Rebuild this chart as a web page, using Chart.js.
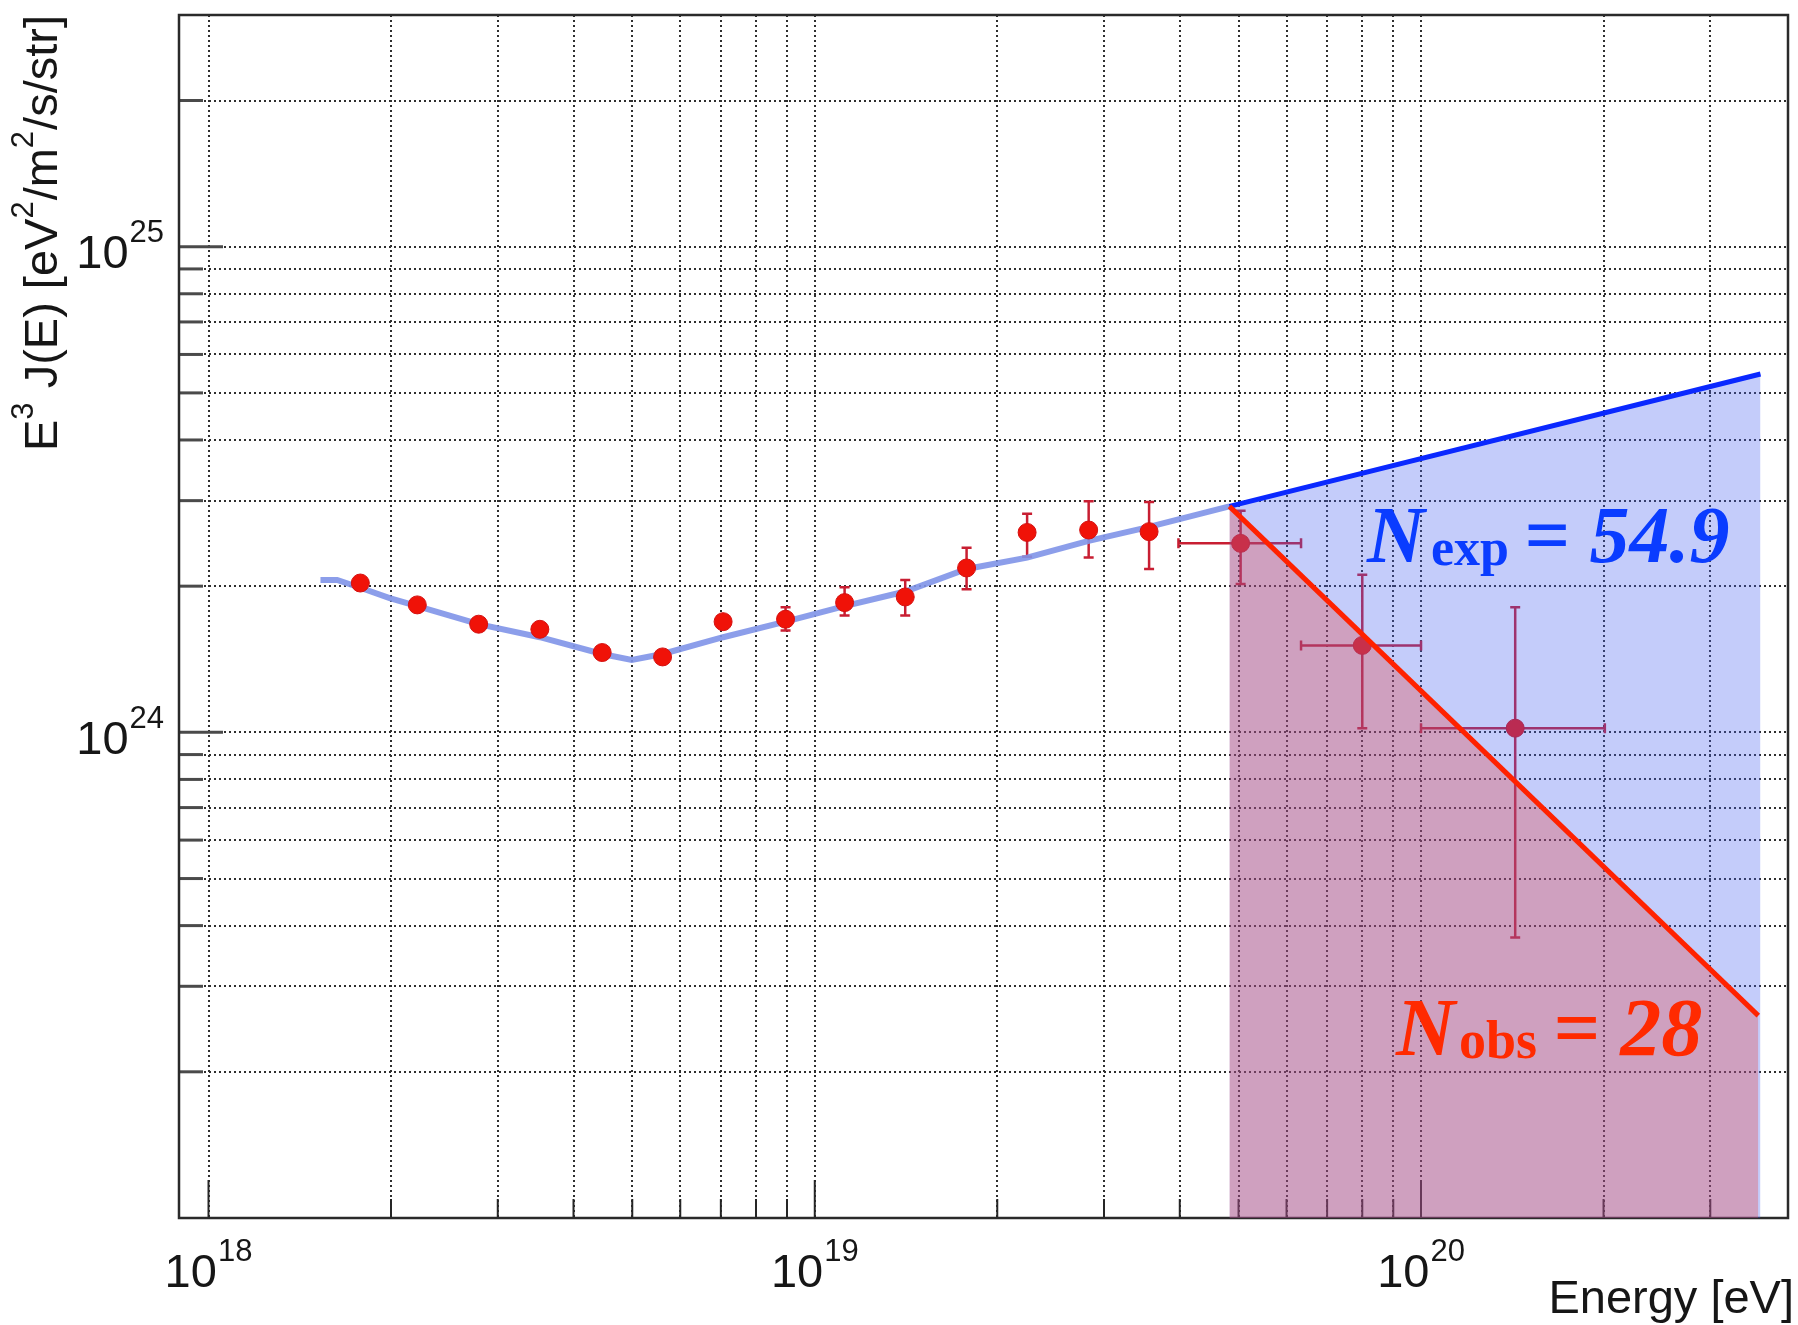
<!DOCTYPE html>
<html lang="en">
<head>
<meta charset="UTF-8">
<title>E3 J(E) spectrum</title>
<script src="https://cdn.jsdelivr.net/npm/chart.js@4"></script>
<style>
    html, body { margin: 0; padding: 0; background: #ffffff; }
    #wrap { position: relative; width: 1798px; height: 1325px; }
</style>
</head>
<body>
<div id="wrap"><canvas id="spectrum"></canvas></div>
<script>
// measured points: energy [eV] and E^3 J(E) [eV^2/m^2/s/str]
const energy   = [1.78e18, 2.21e18, 2.79e18, 3.52e18, 4.46e18, 5.61e18, 7.06e18, 8.95e18, 1.12e19, 1.41e19, 1.78e19, 2.24e19, 2.83e19, 3.56e19, 5.04e19, 8.00e19, 1.43e20];
const flux     = [2.03e24, 1.83e24, 1.67e24, 1.63e24, 1.46e24, 1.43e24, 1.69e24, 1.71e24, 1.85e24, 1.90e24, 2.18e24, 2.58e24, 2.61e24, 2.59e24, 2.45e24, 1.51e24, 1.02e24];
const fluxLow  = [1.99e24, 1.79e24, 1.63e24, 1.59e24, 1.42e24, 1.39e24, 1.64e24, 1.62e24, 1.74e24, 1.74e24, 1.97e24, 2.30e24, 2.29e24, 2.17e24, 2.02e24, 1.02e24, 0.378e24];
const fluxHigh = [2.07e24, 1.87e24, 1.71e24, 1.67e24, 1.50e24, 1.47e24, 1.74e24, 1.81e24, 1.99e24, 2.06e24, 2.40e24, 2.82e24, 2.99e24, 2.98e24, 2.86e24, 2.11e24, 1.81e24];
const energyLow  = [null, null, null, null, null, null, null, null, null, null, null, null, null, null, 3.98e19, 6.34e19, 1.00e20];
const energyHigh = [null, null, null, null, null, null, null, null, null, null, null, null, null, null, 6.34e19, 1.00e20, 2.01e20];

// fitted spectrum up to the cut
const fitEnergy = [1.53e18, 1.63e18, 1.77e18, 1.99e18, 2.21e18, 2.79e18, 3.52e18, 4.46e18, 4.99e18, 5.61e18, 7.06e18, 8.95e18, 1.12e19, 1.41e19, 1.78e19, 2.24e19, 2.83e19, 3.52e19, 4.83e19];
const fitFlux   = [2.06e24, 2.06e24, 1.99e24, 1.89e24, 1.82e24, 1.67e24, 1.57e24, 1.45e24, 1.41e24, 1.45e24, 1.57e24, 1.69e24, 1.82e24, 1.95e24, 2.17e24, 2.29e24, 2.48e24, 2.64e24, 2.92e24];

// expected (extrapolated) and observed spectrum above the cut
const expEnergy = [4.83e19, 3.63e20];
const expFlux   = [2.92e24, 5.47e24];
const obsEnergy = [4.83e19, 3.60e20];
const obsFlux   = [2.92e24, 2.61e23];

// axes
const xDecades = [1e18, 1e19, 1e20];
const yDecades = [1e23, 1e24, 1e25];
const yLabelDecades = [1e24, 1e25];
const minorSteps = [1, 2, 3, 4, 5, 6, 7, 8, 9];

// texts
const xTitle = 'Energy [eV]';
const yTitle = [['E', false], ['3', true], [' J(E) [eV', false], ['2', true], ['/m', false], ['2', true], ['/s/str]', false]];
const expLabel = ['N', 'exp', '= 54.9'];
const obsLabel = ['N', 'obs', '= 28'];

const X_MIN = 8.94e17, X_MAX = 4.03e20, Y_MIN = 1e23, Y_MAX = 3e25;

function tickList(decades, min, max) {
    const out = [];
    decades.forEach(d => minorSteps.forEach(m => {
        const v = d * m;
        if (v > min * 1.02 && v < max * 0.98) out.push(v);
    }));
    return out;
}
const xTicks = tickList(xDecades, X_MIN, X_MAX);
const yTicks = tickList(yDecades, Y_MIN, Y_MAX);
const isDecade = v => Math.abs(Math.log10(v) - Math.round(Math.log10(v))) < 1e-6;

const SANS = '"Liberation Sans", Arial, sans-serif';
const SERIF = '"Liberation Serif", "Times New Roman", serif';

function powerLabel(ctx, v, x, base, align) {
    const exp = String(Math.round(Math.log10(v)));
    ctx.font = '47px ' + SANS;
    const wb = ctx.measureText('10').width;
    ctx.font = '31px ' + SANS;
    const ws = ctx.measureText(exp).width;
    const total = wb + ws + 1;
    const start = align === 'center' ? x - total / 2 : x - total;
    ctx.textAlign = 'left';
    ctx.font = '47px ' + SANS;
    ctx.fillText('10', start, base);
    ctx.font = '31px ' + SANS;
    ctx.fillText(exp, start + wb + 1, base - 26);
}

const decorations = {
    id: 'decorations',
    beforeDatasetsDraw(chart) {
        const { ctx, chartArea: a, scales: { x, y } } = chart;
        ctx.save();
        // tick marks pointing inwards
        ctx.strokeStyle = '#262626';
        ctx.lineWidth = 2;
        xTicks.forEach(v => {
            const px = x.getPixelForValue(v);
            const len = isDecade(v) ? 38 : 19;
            ctx.beginPath(); ctx.moveTo(px, a.bottom); ctx.lineTo(px, a.bottom - len); ctx.stroke();
        });
        ctx.strokeStyle = '#4a4a4a';
        ctx.lineWidth = 3;
        yTicks.forEach(v => {
            const py = y.getPixelForValue(v);
            const len = isDecade(v) ? 44 : 24;
            ctx.beginPath(); ctx.moveTo(a.left, py); ctx.lineTo(a.left + len, py); ctx.stroke();
        });
        // frame
        ctx.strokeStyle = '#2a2a2a';
        ctx.lineWidth = 2.5;
        ctx.strokeRect(a.left, a.top, a.right - a.left, a.bottom - a.top);

        // error bars
        ctx.strokeStyle = '#c81e32';
        ctx.lineWidth = 2.5;
        const cap = 5;
        energy.forEach((e, i) => {
            const px = x.getPixelForValue(e);
            const py = y.getPixelForValue(flux[i]);
            const yl = y.getPixelForValue(fluxLow[i]);
            const yh = y.getPixelForValue(fluxHigh[i]);
            ctx.beginPath();
            ctx.moveTo(px, yl); ctx.lineTo(px, yh);
            ctx.moveTo(px - cap, yl); ctx.lineTo(px + cap, yl);
            ctx.moveTo(px - cap, yh); ctx.lineTo(px + cap, yh);
            if (energyLow[i] !== null) {
                const xl = x.getPixelForValue(energyLow[i]);
                const xh = x.getPixelForValue(energyHigh[i]);
                ctx.moveTo(xl, py); ctx.lineTo(xh, py);
                ctx.moveTo(xl, py - cap); ctx.lineTo(xl, py + cap);
                ctx.moveTo(xh, py - cap); ctx.lineTo(xh, py + cap);
            }
            ctx.stroke();
        });
        ctx.restore();
    },
    afterDraw(chart) {
        const { ctx, chartArea: a, scales: { x, y } } = chart;
        ctx.save();
        ctx.fillStyle = '#161616';
        ctx.textBaseline = 'alphabetic';

        // tick labels
        xDecades.forEach(v => powerLabel(ctx, v, x.getPixelForValue(v), a.bottom + 69, 'center'));
        yLabelDecades.forEach(v => powerLabel(ctx, v, a.left - 15, y.getPixelForValue(v) + 21.5, 'right'));

        // x title
        ctx.font = '47px ' + SANS;
        ctx.textAlign = 'right';
        ctx.fillText(xTitle, 1794, 1313);

        // y title, rotated
        ctx.save();
        ctx.translate(57, 451);
        ctx.rotate(-Math.PI / 2);
        ctx.textAlign = 'left';
        let cx = 0;
        yTitle.forEach(([t, sup]) => {
            ctx.font = (sup ? '31px ' : '47px ') + SANS;
            ctx.fillText(t, cx, sup ? -24 : 0);
            cx += ctx.measureText(t).width + (sup ? 1 : 0);
        });
        ctx.restore();

        // annotations
        ctx.textAlign = 'left';
        ctx.fillStyle = '#0a3cff';
        ctx.font = 'italic bold 80px ' + SERIF;
        ctx.fillText(expLabel[0], 1367, 562);
        ctx.font = 'bold 52px ' + SERIF;
        ctx.fillText(expLabel[1], 1431, 565);
        ctx.font = 'italic bold 80px ' + SERIF;
        ctx.fillText(expLabel[2], 1524, 562);

        ctx.fillStyle = '#ff2a00';
        ctx.font = 'italic bold 82px ' + SERIF;
        ctx.fillText(obsLabel[0], 1396, 1055);
        ctx.font = 'bold 54px ' + SERIF;
        ctx.fillText(obsLabel[1], 1459, 1058);
        ctx.font = 'italic bold 82px ' + SERIF;
        ctx.fillText(obsLabel[2], 1553, 1055);
        ctx.restore();
    }
};

const toXY = (xs, ys) => xs.map((v, i) => ({ x: v, y: ys[i] }));

new Chart(document.getElementById('spectrum'), {
    type: 'line',
    data: {
        datasets: [
            {
                label: 'observed',
                data: toXY(obsEnergy, obsFlux),
                borderColor: '#ff2200',
                borderWidth: 5,
                backgroundColor: 'rgba(233, 61, 57, 0.30)',
                fill: 'start',
                pointRadius: 0,
                order: 1
            },
            {
                label: 'expected',
                data: toXY(expEnergy, expFlux),
                borderColor: '#0a28ff',
                borderWidth: 5,
                backgroundColor: 'rgba(70, 95, 240, 0.32)',
                fill: 'start',
                pointRadius: 0,
                order: 2
            },
            {
                label: 'data',
                data: toXY(energy, flux),
                showLine: false,
                pointRadius: 9,
                pointHoverRadius: 9,
                pointBackgroundColor: '#f01208',
                pointBorderColor: '#d41010',
                pointBorderWidth: 1,
                order: 3
            },
            {
                label: 'fit',
                data: toXY(fitEnergy, fitFlux),
                borderColor: 'rgba(128, 148, 232, 0.9)',
                borderWidth: 6,
                pointRadius: 0,
                fill: false,
                order: 4
            }
        ]
    },
    options: {
        responsive: true,
        maintainAspectRatio: false,
        animation: false,
        devicePixelRatio: 1,
        layout: { padding: { left: 179, right: 5, top: 15, bottom: 107 } },
        plugins: { legend: { display: false }, tooltip: { enabled: false } },
        scales: {
            x: {
                type: 'logarithmic',
                min: X_MIN,
                max: X_MAX,
                afterBuildTicks: s => { s.ticks = xTicks.map(v => ({ value: v })); },
                afterFit: s => { s.height = 0; },
                ticks: { display: false },
                grid: { color: '#2e2e2e', lineWidth: 2, drawTicks: false },
                border: { display: false, dash: [2, 3] }
            },
            y: {
                type: 'logarithmic',
                min: Y_MIN,
                max: Y_MAX,
                afterBuildTicks: s => { s.ticks = yTicks.map(v => ({ value: v })); },
                afterFit: s => { s.width = 0; },
                ticks: { display: false },
                grid: { color: '#2e2e2e', lineWidth: 2, drawTicks: false },
                border: { display: false, dash: [2, 3] }
            }
        }
    },
    plugins: [decorations]
});
</script>
</body>
</html>
